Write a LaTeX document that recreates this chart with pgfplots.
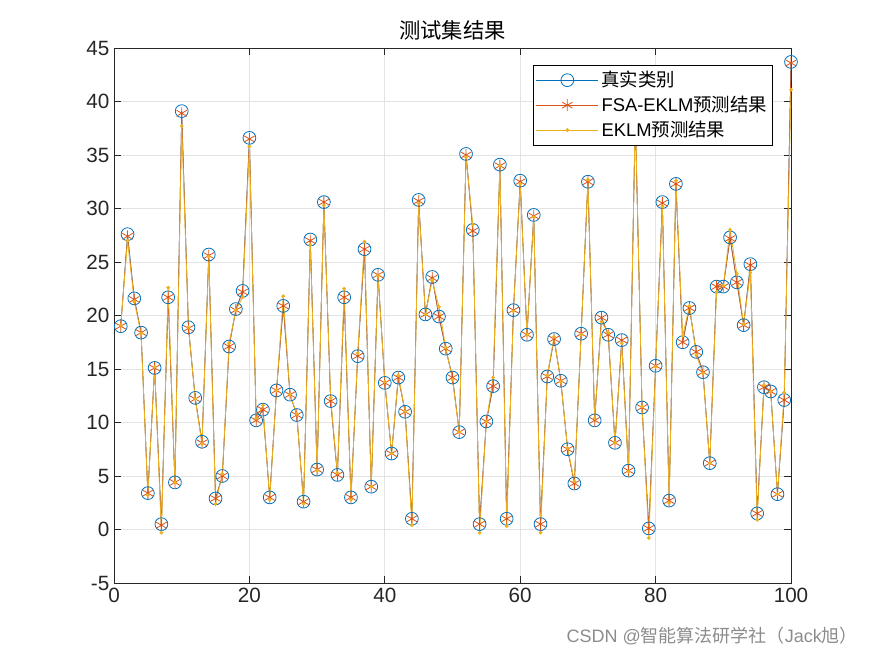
\documentclass[border=0pt]{standalone}
\usepackage{pgfplots}
\usepackage{pgfplotstable}
\pgfplotsset{compat=1.18}
\usepackage{fontspec}
\setmainfont{Liberation Sans}
\newfontfamily\cjk{Noto Sans CJK SC}

\definecolor{mblue}{rgb}{0,0.447,0.741}
\definecolor{morange}{rgb}{0.85,0.325,0.098}
\definecolor{myellow}{rgb}{0.929,0.694,0.125}

% x, true value, FSA-EKLM, EKLM
\pgfplotstableread{
x  t     f     e
1  19.0  19.0  19.1
2  27.6  27.4  27.0
3  21.6  21.5  21.3
4  18.4  18.4  18.3
5  3.4   3.4   3.2
6  15.1  15.1  15.2
7  0.5   0.4   -0.3
8  21.7  21.7  22.6
9  4.4   4.4   4.4
10 39.1  38.9  37.7
11 18.9  18.8  18.9
12 12.3  12.2  12.2
13 8.2   8.1   8.0
14 25.7  25.6  25.5
15 2.9   2.9   2.4
16 5.0   5.0   5.2
17 17.1  17.1  17.4
18 20.6  20.5  20.5
19 22.3  22.2  21.7
20 36.6  36.5  35.8
21 10.2  10.2  10.4
22 11.2  11.2  11.6
23 3.0   3.0   2.8
24 13.0  13.0  13.0
25 20.9  20.9  21.8
26 12.6  12.6  12.6
27 10.7  10.7  10.8
28 2.6   2.6   2.4
29 27.1  27.0  26.6
30 5.6   5.6   5.5
31 30.6  30.6  30.3
32 12.0  12.0  12.3
33 5.1   5.1   5.3
34 21.7  21.7  22.5
35 3.0   3.0   2.8
36 16.2  16.2  16.5
37 26.2  26.2  26.9
38 4.0   4.0   4.0
39 23.8  23.8  23.7
40 13.7  13.7  13.8
41 7.1   7.1   7.1
42 14.2  14.2  14.4
43 11.0  11.0  11.0
44 1.0   1.0   0.4
45 30.8  30.7  30.5
46 20.1  20.1  20.1
47 23.6  23.5  23.3
48 19.9  19.9  20.8
49 16.9  16.9  17.0
50 14.2  14.2  14.0
51 9.1   9.1   9.1
52 35.1  35.0  34.8
53 28.0  27.9  28.5
54 0.5   0.5   -0.3
55 10.1  10.1  10.1
56 13.4  13.4  14.2
57 34.1  34.0  34.0
58 1.0   1.0   0.3
59 20.5  20.5  20.4
60 32.6  32.5  32.3
61 18.2  18.2  18.2
62 29.4  29.3  29.2
63 0.5   0.5   -0.3
64 14.3  14.3  14.4
65 17.8  17.8  18.0
66 13.9  13.9  13.8
67 7.5   7.5   7.6
68 4.3   4.3   4.5
69 18.3  18.3  18.2
70 32.5  32.5  32.7
71 10.2  10.2  10.4
72 19.8  19.8  19.4
73 18.2  18.2  18.4
74 8.1   8.1   8.1
75 17.7  17.7  17.4
76 5.5   5.5   5.4
77 38.6  38.5  38.8
78 11.4  11.4  11.5
79 0.1   0.1   -0.8
80 15.3  15.3  15.2
81 30.6  30.5  30.2
82 2.7   2.7   2.5
83 32.3  32.3  32.6
84 17.5  17.5  18.1
85 20.7  20.7  20.9
86 16.6  16.6  16.3
87 14.7  14.7  14.6
88 6.2   6.2   6.2
89 22.7  22.7  22.2
90 22.7  22.7  22.8
91 27.3  27.2  28.0
92 23.1  23.1  23.9
93 19.1  19.1  19.2
94 24.8  24.7  24.0
95 1.5   1.5   0.9
96 13.3  13.3  13.5
97 12.9  12.9  12.9
98 3.3   3.3   3.3
99 12.1  12.1  12.8
100 43.7 43.6  41.1
}\results

\begin{document}
\begin{tikzpicture}
\path[use as bounding box] (0pt,0pt) rectangle (656.25pt,492pt);
\begin{axis}[
    at={(85.5pt,54.75pt)}, anchor=south west,
    scale only axis,
    width=507.75pt, height=401.25pt,
    xmin=0, xmax=100, ymin=-5, ymax=45,
    xtick={0,20,...,100},
    ytick={-5,0,...,45},
    xtick pos=both, ytick pos=both,
    tick align=inside,
    major tick length=5pt,
    grid=major,
    grid style={gray!22, line width=0.5pt},
    axis line style={black!85, line width=0.6pt},
    tick style={black!85, line width=0.6pt},
    tick label style={font=\fontsize{15.5}{17}\selectfont, text=black!85},
    /pgf/number format/assume math mode=true,
    title={\cjk 测试集结果},
    title style={font=\fontsize{16}{18}\selectfont, yshift=-4pt},
    legend style={
        at={(0.973,0.968)}, anchor=north east,
        font=\fontsize{13.8}{15}\selectfont,
        fill=white, inner xsep=2pt, inner ysep=2.5pt,
        row sep=1.6pt,
        cells={anchor=west}
    },
    legend image code/.code={
        \draw[mark repeat=2, mark phase=2]
        plot coordinates {(0cm,0cm) (0.82cm,0cm) (1.64cm,0cm)};
    },
]
\addplot[mblue, line width=0.5pt, mark=o, mark size=4.8pt,
    mark options={line width=0.6pt}] table[x=x, y=t] {\results};
\addlegendentry{\cjk 真实类别}
\addplot[morange, line width=0.5pt, mark=asterisk, mark size=4.5pt,
    mark options={line width=0.6pt}] table[x=x, y=f] {\results};
\addlegendentry{FSA-EKLM{\cjk 预测结果}}
\addplot[myellow, line width=0.6pt, mark=*, mark size=1.1pt] table[x=x, y=e] {\results};
\addlegendentry{EKLM{\cjk 预测结果}}
\end{axis}
\node[anchor=east, text=black!45, font=\fontsize{13.5}{15}\selectfont] at (647pt,15pt)
    {CSDN @{\cjk 智能算法研学社（}Jack{\cjk 旭）}};
\end{tikzpicture}
\end{document}
